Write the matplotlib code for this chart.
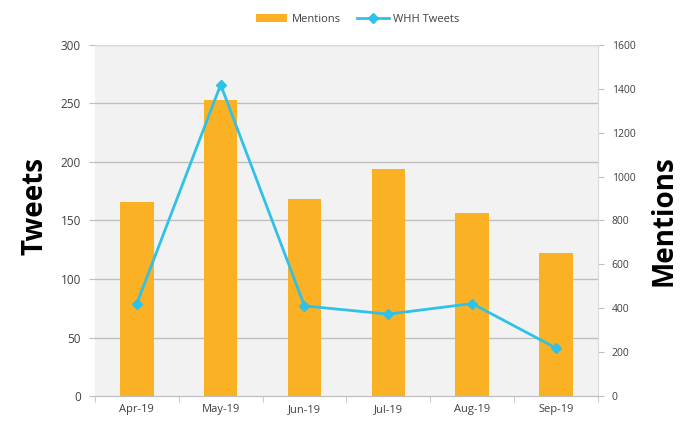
import matplotlib
matplotlib.use("Agg")
import matplotlib.pyplot as plt
from matplotlib.ticker import FixedLocator

months = ["Apr-19", "May-19", "Jun-19", "Jul-19", "Aug-19", "Sep-19"]
mentions = [882, 1348, 897, 1033, 833, 652]
tweets = [79, 266, 77, 70, 79, 41]

bar_color = "#FBB124"
line_color = "#2EC2EA"
txt_color = "#404040"

plt.rcParams['font.family'] = ['Open Sans', 'DejaVu Sans']

fig = plt.figure(figsize=(6.88, 4.24), dpi=100)
ax = fig.add_axes([0.138, 0.066, 0.731, 0.828])
ax.set_facecolor("#F2F2F2")
ax2 = ax.twinx()

x = list(range(len(months)))
ax2.bar(x, mentions, width=0.4, color=bar_color, zorder=2, label="Mentions")
ax.plot(x, tweets, color=line_color, lw=2, marker="D", ms=5, zorder=5, label="WHH Tweets")

ax.set_zorder(ax2.get_zorder() + 1)
ax.patch.set_visible(False)
ax2.patch.set_visible(True)
ax2.patch.set_facecolor("#F2F2F2")

ax.set_xlim(-0.5, 5.5)
ax.set_ylim(0, 300)
ax2.set_ylim(0, 1600)
ax.set_yticks(range(0, 301, 50))
ax2.set_yticks(range(0, 1601, 200))
ax.set_xticks(x)
ax.set_xticklabels(months)
ax.xaxis.set_minor_locator(FixedLocator([i + 0.5 for i in range(-1, 6)]))
ax.tick_params(axis="x", which="major", length=0, labelsize=8, colors=txt_color, pad=6)
ax.tick_params(axis="x", which="minor", length=4, color="#BFBFBF")
ax.tick_params(axis="y", labelsize=8.5, colors=txt_color, length=4, color="#BFBFBF", pad=6)
ax2.tick_params(axis="y", labelsize=7.5, colors=txt_color, length=4, color="#BFBFBF", pad=6)

# gridlines drawn on ax2 (behind bars)
for v in range(50, 301, 50):
    ax2.axhline(v * 1600 / 300, color="#BFBFBF", lw=1, zorder=1)

for a in (ax, ax2):
    for s in ["top", "left", "right"]:
        a.spines[s].set_visible(False)
    a.spines["bottom"].set_color("#BFBFBF")
ax2.spines["right"].set_visible(True)
ax2.spines["right"].set_color("#D9D9D9")
ax2.spines["top"].set_visible(True)
ax2.spines["top"].set_color("#D9D9D9")

ax.set_ylabel("Tweets", fontsize=20, fontweight="bold", color="black")
ax.yaxis.set_label_coords(-0.091, 0.541)
ax2.set_ylabel("Mentions", fontsize=20, fontweight="bold", color="black", labelpad=10)

h1, l1 = ax2.get_legend_handles_labels()
h2, l2 = ax.get_legend_handles_labels()
fig.legend(h1 + h2, l1 + l2, loc="center", bbox_to_anchor=(0.52, 0.955), ncol=2,
           frameon=False, fontsize=8, labelcolor=txt_color, handlelength=2.8,
           columnspacing=1.5, handletextpad=0.4)

fig.savefig("out.png", dpi=100, facecolor="white")
